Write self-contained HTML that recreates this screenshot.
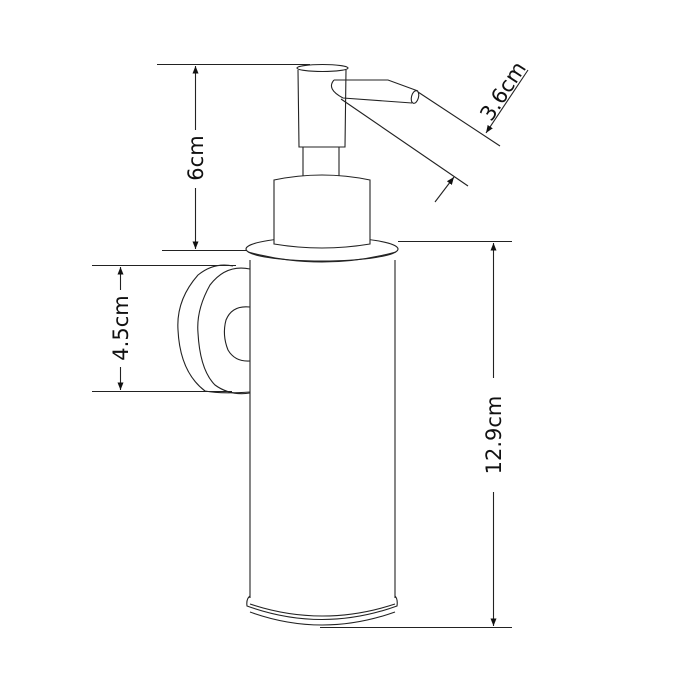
<!DOCTYPE html>
<html><head><meta charset="utf-8"><style>
html,body{margin:0;padding:0;background:#fff;width:700px;height:700px;overflow:hidden}
svg{display:block}
text{font-family:"DejaVu Sans","Liberation Sans",sans-serif;font-size:21px;fill:#111}
</style></head><body>
<svg width="700" height="700" viewBox="0 0 700 700" xmlns="http://www.w3.org/2000/svg">
<defs>
<marker id="a" viewBox="0 0 10 10" refX="10" refY="5" markerWidth="7" markerHeight="7" orient="auto-start-reverse"><path d="M0,1 L10,5 L0,9 z" fill="#111"/></marker>
</defs>
<g fill="none" stroke="#222" stroke-width="1.1">
<!-- 6cm dimension -->
<line x1="157" y1="64.5" x2="310" y2="64.5"/>
<line x1="162" y1="250.5" x2="250" y2="250.5"/>
<line x1="195.5" y1="66" x2="195.5" y2="130" marker-start="url(#a)"/>
<line x1="195.5" y1="188" x2="195.5" y2="249" marker-end="url(#a)"/>
<!-- top rim -->
<ellipse cx="322" cy="249" rx="76" ry="12" fill="#fff"/>
<path d="M248,252 Q322,272 396,252"/>
<!-- pump cap -->
<ellipse cx="322.5" cy="68" rx="25.5" ry="3.5"/>
<path d="M298,70 L299,147 L345,147 L346,70"/>
<path d="M303,147 L303,178 M339,147 L339,178"/>
<!-- collar -->
<path d="M274,180 Q322,170 370,180 L370,244 Q322,252 274,244 Z" fill="#fff"/>
<!-- spout -->
<path d="M334,80 L388,80 L418,91 M343,98 L412,103 M334,80 Q326,89 343,98"/>
<ellipse cx="415" cy="97" rx="3.5" ry="6.5" transform="rotate(15 415 97)"/>
<!-- 3.6cm -->
<line x1="418" y1="92" x2="500" y2="146"/>
<line x1="341" y1="99" x2="468" y2="186"/>
<line x1="528" y1="70" x2="486" y2="133" marker-end="url(#a)"/>
<line x1="435" y1="202" x2="454" y2="177" marker-end="url(#a)"/>
<!-- body -->
<line x1="250" y1="260" x2="250" y2="598"/>
<line x1="395" y1="260" x2="395" y2="598"/>
<!-- bottom rim -->
<path d="M250,596 Q246,599 247,606 Q322,633 397,606 Q398,599 395,596"/>
<path d="M250,604 Q322,628 395,604"/>
<path d="M250,612 Q322,638 395,612"/>
<!-- wall mount -->
<path d="M233,266 Q214,262 198,275 Q176,300 178,330 Q180,372 205,391 Q220,394 250,392"/>
<path d="M250,269 Q226,264 210,285 Q196,310 198,333 Q200,370 215,385 Q230,396 250,393"/>
<path d="M250,307 Q232,305 226,320 Q222,335 228,350 Q235,362 250,361"/>
<!-- 4.5cm -->
<line x1="92" y1="265.5" x2="236" y2="265.5"/>
<line x1="92" y1="391.5" x2="232" y2="391.5"/>
<line x1="120.5" y1="267" x2="120.5" y2="290" marker-start="url(#a)"/>
<line x1="120.5" y1="367" x2="120.5" y2="390" marker-end="url(#a)"/>
<!-- 12.9cm -->
<line x1="398" y1="241.5" x2="512" y2="241.5"/>
<line x1="320" y1="627.5" x2="512" y2="627.5"/>
<line x1="493.5" y1="243" x2="493.5" y2="378" marker-start="url(#a)"/>
<line x1="493.5" y1="492" x2="493.5" y2="626" marker-end="url(#a)"/>
</g>
<text transform="translate(203,158) rotate(-90)" text-anchor="middle">6cm</text>
<text transform="translate(128,328) rotate(-90)" text-anchor="middle">4.5cm</text>
<text transform="translate(501,435) rotate(-90)" text-anchor="middle">12.9cm</text>
<text transform="translate(509,95) rotate(-57)" text-anchor="middle">3.6cm</text>
</svg>
</body></html>
